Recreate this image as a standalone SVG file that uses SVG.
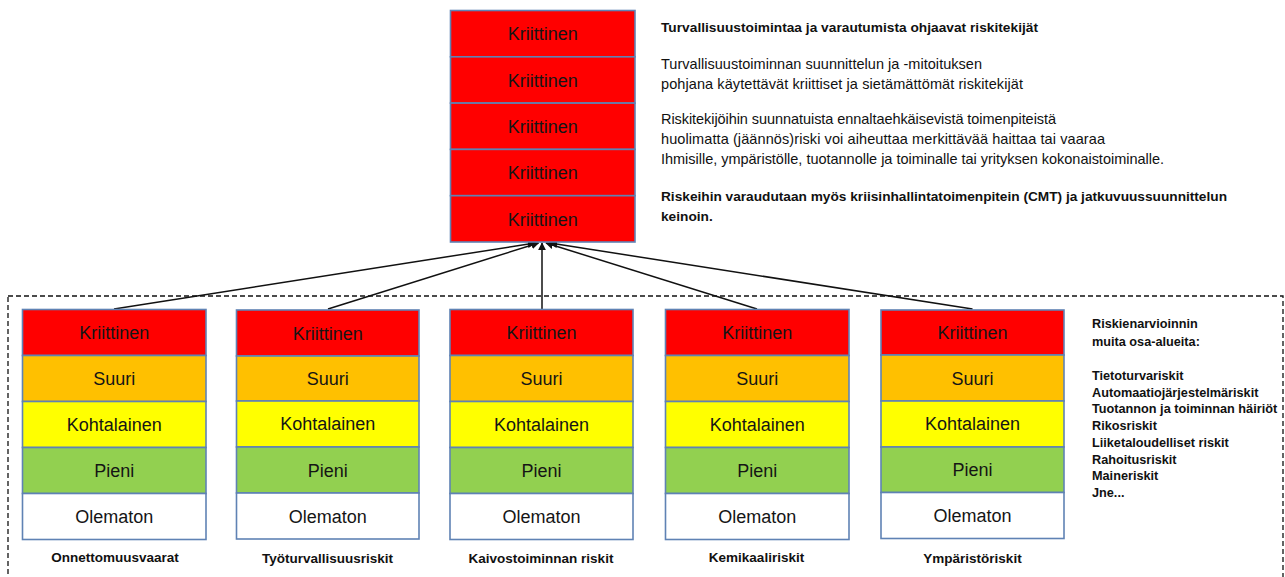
<svg xmlns="http://www.w3.org/2000/svg" width="1285" height="577" viewBox="0 0 1285 577">
<defs>
<style>
.row{stroke:#5f82b4;stroke-width:1.6}
.k{fill:#ff0000}.s{fill:#ffc000}.m{fill:#ffff00}.p{fill:#92d050}.o{fill:#ffffff}
.lv{font-family:"Liberation Sans",Arial,sans-serif;font-size:18px;fill:#151515;text-anchor:middle}
.cap{font-family:"Liberation Sans",Arial,sans-serif;font-size:13.5px;font-weight:bold;fill:#111;text-anchor:middle}
.t{font-family:"Liberation Sans",Arial,sans-serif;font-size:14.5px;fill:#111}
.tb{font-family:"Liberation Sans",Arial,sans-serif;font-size:13.7px;font-weight:bold;fill:#111}
.lst{font-family:"Liberation Sans",Arial,sans-serif;font-size:12.7px;font-weight:bold;fill:#111}
.edge{stroke:#111;stroke-width:1.5;fill:none}
</style>
<marker id="ah" viewBox="0 0 10 10" refX="9" refY="5" markerWidth="8" markerHeight="8" markerUnits="userSpaceOnUse" orient="auto">
<path d="M0,0 L10,5 L0,10 z" fill="#111"/>
</marker>
</defs>
<rect width="1285" height="577" fill="#ffffff"/>

<rect x="8" y="296" width="1275" height="300" fill="none" stroke="#111" stroke-width="1.3" stroke-dasharray="5 3"/>

<g id="connectors">
<line class="edge" x1="114" y1="309" x2="535" y2="243" marker-end="url(#ah)"/>
<line class="edge" x1="328" y1="309" x2="538.5" y2="243" marker-end="url(#ah)"/>
<line class="edge" x1="542" y1="309" x2="542" y2="243" marker-end="url(#ah)"/>
<line class="edge" x1="757" y1="309" x2="546" y2="243" marker-end="url(#ah)"/>
<line class="edge" x1="972.5" y1="309" x2="550" y2="243" marker-end="url(#ah)"/>
</g>

<g id="top-stack">
<rect class="row k" x="450.5" y="10.5" width="184.5" height="46.3"/>
<rect class="row k" x="450.5" y="56.8" width="184.5" height="46.3"/>
<rect class="row k" x="450.5" y="103.1" width="184.5" height="46.3"/>
<rect class="row k" x="450.5" y="149.4" width="184.5" height="46.3"/>
<rect class="row k" x="450.5" y="195.7" width="184.5" height="46.3"/>
<text class="lv" x="542.7" y="40.3">Kriittinen</text>
<text class="lv" x="542.7" y="86.6">Kriittinen</text>
<text class="lv" x="542.7" y="132.9">Kriittinen</text>
<text class="lv" x="542.7" y="179.2">Kriittinen</text>
<text class="lv" x="542.7" y="225.5">Kriittinen</text>
</g>

<g id="top-text">
<text class="tb" x="661" y="32" textLength="377">Turvallisuustoimintaa ja varautumista ohjaavat riskitekijät</text>
<text class="t" x="661" y="69" textLength="321">Turvallisuustoiminnan suunnittelun ja -mitoituksen</text>
<text class="t" x="661" y="89" textLength="362">pohjana käytettävät kriittiset ja sietämättömät riskitekijät</text>
<text class="t" x="661" y="124" textLength="395">Riskitekijöihin suunnatuista ennaltaehkäisevistä toimenpiteistä</text>
<text class="t" x="661" y="144" textLength="444">huolimatta (jäännös)riski voi aiheuttaa merkittävää haittaa tai vaaraa</text>
<text class="t" x="661" y="164" textLength="503">Ihmisille, ympäristölle, tuotannolle ja toiminalle tai yrityksen kokonaistoiminalle.</text>
<text class="tb" x="661" y="201" textLength="566">Riskeihin varaudutaan myös kriisinhallintatoimenpitein (CMT) ja jatkuvuussuunnittelun</text>
<text class="tb" x="661" y="221">keinoin.</text>
</g>

<g id="stack-onnettomuusvaarat">
<rect class="row k" x="22.5" y="309.5" width="183.5" height="46"/>
<rect class="row s" x="22.5" y="355.5" width="183.5" height="46"/>
<rect class="row m" x="22.5" y="401.5" width="183.5" height="46"/>
<rect class="row p" x="22.5" y="447.5" width="183.5" height="46"/>
<rect class="row o" x="22.5" y="493.5" width="183.5" height="46"/>
<text class="lv" x="114.2" y="339">Kriittinen</text>
<text class="lv" x="114.2" y="385">Suuri</text>
<text class="lv" x="114.2" y="431">Kohtalainen</text>
<text class="lv" x="114.2" y="477">Pieni</text>
<text class="lv" x="114.2" y="523">Olematon</text>
<text class="cap" x="115" y="562">Onnettomuusvaarat</text>
</g>

<g id="stack-tyoturvallisuusriskit">
<rect class="row k" x="236.5" y="310" width="182.5" height="46"/>
<rect class="row s" x="236.5" y="356" width="182.5" height="45"/>
<rect class="row m" x="236.5" y="401" width="182.5" height="46"/>
<rect class="row p" x="236.5" y="447" width="182.5" height="46"/>
<rect class="row o" x="236.5" y="493" width="182.5" height="46"/>
<text class="lv" x="327.7" y="339.5">Kriittinen</text>
<text class="lv" x="327.7" y="385">Suuri</text>
<text class="lv" x="327.7" y="430">Kohtalainen</text>
<text class="lv" x="327.7" y="476.5">Pieni</text>
<text class="lv" x="327.7" y="522.5">Olematon</text>
<text class="cap" x="327.5" y="563">Työturvallisuusriskit</text>
</g>

<g id="stack-kaivostoiminnan-riskit">
<rect class="row k" x="450" y="309.5" width="183" height="46"/>
<rect class="row s" x="450" y="355.5" width="183" height="46"/>
<rect class="row m" x="450" y="401.5" width="183" height="46"/>
<rect class="row p" x="450" y="447.5" width="183" height="46"/>
<rect class="row o" x="450" y="493.5" width="183" height="46"/>
<text class="lv" x="541.5" y="339">Kriittinen</text>
<text class="lv" x="541.5" y="385">Suuri</text>
<text class="lv" x="541.5" y="431">Kohtalainen</text>
<text class="lv" x="541.5" y="477">Pieni</text>
<text class="lv" x="541.5" y="523">Olematon</text>
<text class="cap" x="541" y="563">Kaivostoiminnan riskit</text>
</g>

<g id="stack-kemikaaliriskit">
<rect class="row k" x="665.5" y="309.5" width="183.5" height="46"/>
<rect class="row s" x="665.5" y="355.5" width="183.5" height="46"/>
<rect class="row m" x="665.5" y="401.5" width="183.5" height="46"/>
<rect class="row p" x="665.5" y="447.5" width="183.5" height="46"/>
<rect class="row o" x="665.5" y="493.5" width="183.5" height="46"/>
<text class="lv" x="757.2" y="339">Kriittinen</text>
<text class="lv" x="757.2" y="385">Suuri</text>
<text class="lv" x="757.2" y="431">Kohtalainen</text>
<text class="lv" x="757.2" y="477">Pieni</text>
<text class="lv" x="757.2" y="523">Olematon</text>
<text class="cap" x="756.5" y="562">Kemikaaliriskit</text>
</g>

<g id="stack-ymparistoriskit">
<rect class="row k" x="881" y="310" width="183" height="45"/>
<rect class="row s" x="881" y="355" width="183" height="46"/>
<rect class="row m" x="881" y="401" width="183" height="46"/>
<rect class="row p" x="881" y="447" width="183" height="45.5"/>
<rect class="row o" x="881" y="492.5" width="183" height="46"/>
<text class="lv" x="972.5" y="339">Kriittinen</text>
<text class="lv" x="972.5" y="384.5">Suuri</text>
<text class="lv" x="972.5" y="430">Kohtalainen</text>
<text class="lv" x="972.5" y="476">Pieni</text>
<text class="lv" x="972.5" y="522">Olematon</text>
<text class="cap" x="972.5" y="563">Ympäristöriskit</text>
</g>

<g id="other-areas">
<text class="lst" x="1092" y="327.5">Riskienarvioinnin</text>
<text class="lst" x="1092" y="346">muita osa-alueita:</text>
<text class="lst" x="1092" y="379.5">Tietoturvariskit</text>
<text class="lst" x="1092" y="396.5">Automaatiojärjestelmäriskit</text>
<text class="lst" x="1092" y="413">Tuotannon ja toiminnan häiriöt</text>
<text class="lst" x="1092" y="430">Rikosriskit</text>
<text class="lst" x="1092" y="446.5">Liiketaloudelliset riskit</text>
<text class="lst" x="1092" y="463.5">Rahoitusriskit</text>
<text class="lst" x="1092" y="480">Maineriskit</text>
<text class="lst" x="1092" y="497">Jne...</text>
</g>
</svg>
